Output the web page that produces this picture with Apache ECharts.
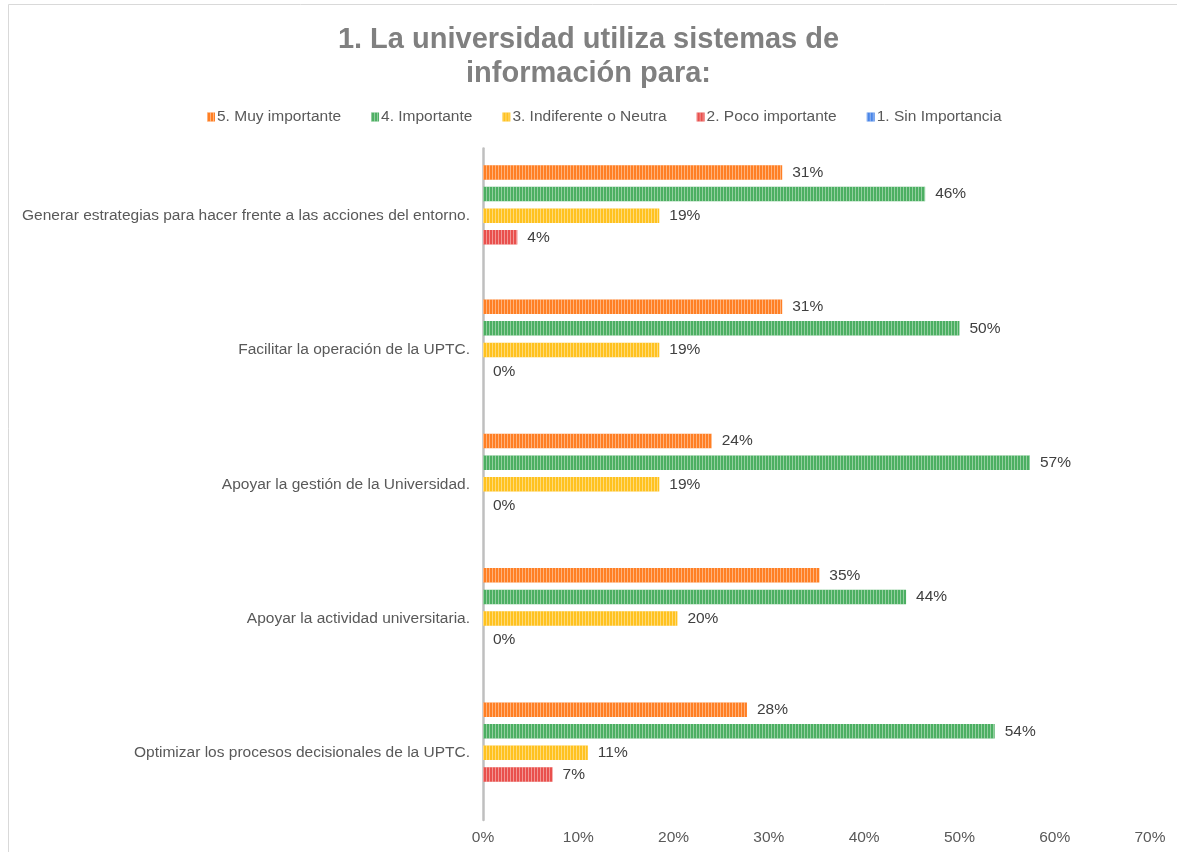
<!DOCTYPE html>
<html>
<head>
<meta charset="utf-8">
<script src="https://cdn.jsdelivr.net/npm/echarts@6/dist/echarts.min.js"></script>
<style>
  html, body { margin: 0; padding: 0; background: #fff; }
  #chart { width: 1177px; height: 852px; }
</style>
</head>
<body>
<div id="chart"></div>
<script>
// categorias (de arriba hacia abajo)
const categories = [
  'Generar estrategias para hacer frente a las acciones del entorno.',
  'Facilitar la operación de la UPTC.',
  'Apoyar la gestión de la Universidad.',
  'Apoyar la actividad universitaria.',
  'Optimizar los procesos decisionales de la UPTC.'
];
const seriesNames = ['5. Muy importante', '4. Importante', '3. Indiferente o Neutra', '2. Poco importante', '1. Sin Importancia'];
const muyImportante = [31.4, 31.4, 24.0, 35.3, 27.7];
const importante = [46.4, 50.0, 57.4, 44.4, 53.7];
const indiferente = [18.5, 18.5, 18.5, 20.4, 11.0];
const pocoImportante = [3.6, 0, 0, 0, 7.3];
const sinImportancia = [null, null, null, null, null];
const xTicks = [0, 10, 20, 30, 40, 50, 60, 70];

const colors = ['#FF7F24', '#4CAF62', '#FFC21F', '#E9504D', '#4A86E8'];
const values = [muyImportante, importante, indiferente, pocoImportante, sinImportancia];

const chart = echarts.init(document.getElementById('chart'));

// relleno a rayas verticales como en Excel
const stripes = {
  symbol: 'rect',
  symbolSize: 1,
  color: 'rgba(255,255,255,0.4)',
  dashArrayX: [1, 2],
  dashArrayY: [10, 0]
};

const option = {
  backgroundColor: '#fff',
  textStyle: { fontFamily: 'Liberation Sans, Arial, sans-serif' },
  title: {
    text: '1. La universidad utiliza sistemas de\ninformación para:',
    left: 'center',
    top: 18,
    textStyle: {
      fontFamily: 'Liberation Sans, Arial, sans-serif',
      fontSize: 29,
      fontWeight: 'bold',
      color: '#808080',
      lineHeight: 34
    }
  },
  legend: {
    top: 104,
    left: 202,
    itemWidth: 8,
    itemHeight: 9,
    itemGap: 30,
    icon: 'rect',
    textStyle: { fontSize: 15.5, color: '#595959', padding: [0, 0, 0, -3] },
    data: seriesNames
  },
  grid: {
    left: 483,
    right: 27,
    top: 148.5,
    bottom: 32,
    containLabel: false
  },
  xAxis: {
    type: 'value',
    min: 0,
    max: 70,
    interval: 10,
    splitLine: { show: false },
    axisLine: { show: false },
    axisTick: { show: false },
    axisLabel: {
      formatter: v => (xTicks.includes(v) ? v + '%' : ''),
      fontSize: 15.5,
      color: '#595959',
      margin: 10
    }
  },
  yAxis: {
    type: 'category',
    inverse: true,
    data: categories,
    axisLine: { show: true, lineStyle: { color: '#BFBFBF', width: 2.5 } },
    axisTick: { show: false },
    axisLabel: { fontSize: 15.5, color: '#595959', margin: 13 }
  },
  series: seriesNames.map((name, i) => ({
    name: name,
    type: 'bar',
    data: values[i],
    barWidth: 14.5,
    barGap: '49%',
    itemStyle: { color: colors[i], decal: stripes },
    label: {
      show: true,
      position: 'right',
      distance: 10,
      fontSize: 15.5,
      color: '#404040',
      formatter: p => (p.value == null ? '' : Math.round(p.value) + '%')
    }
  })),
  graphic: [{
    type: 'polyline',
    shape: { points: [[8.5, 852], [8.5, 4.5], [1177, 4.5]] },
    style: { stroke: '#D9D9D9', lineWidth: 1, fill: null },
    silent: true
  }]
};

chart.setOption(option);
</script>
</body>
</html>
